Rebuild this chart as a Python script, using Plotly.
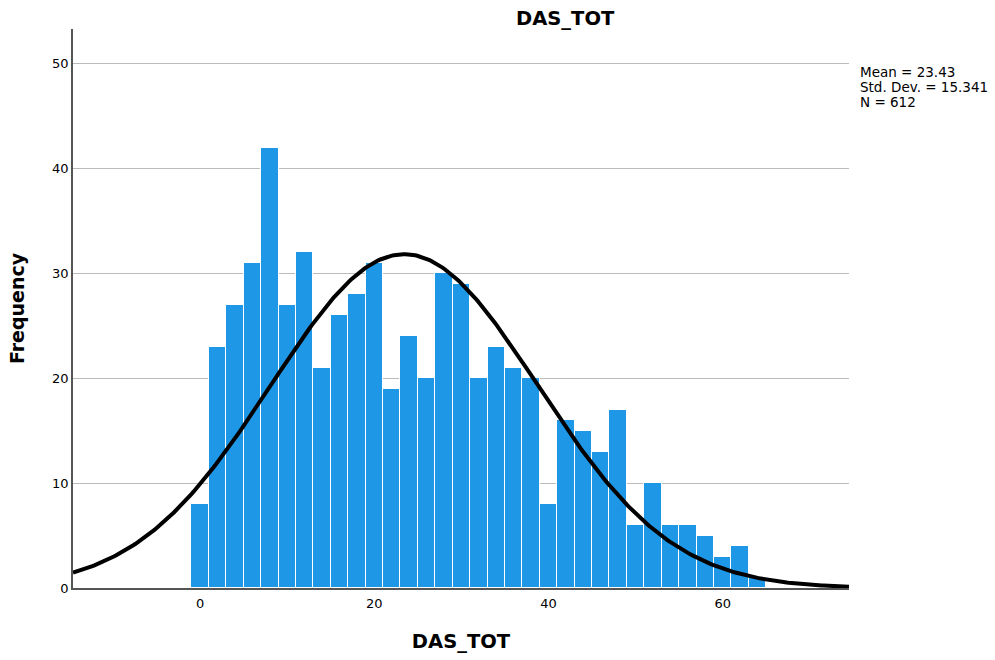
import numpy as np
import plotly.graph_objects as go

# Histogram of DAS_TOT, bin width 2, bins centred on even values
bin_centers = list(range(0, 66, 2))
counts = [8, 23, 27, 31, 42, 27, 32, 21, 26, 28, 31, 19, 24, 20, 30, 29, 20,
          23, 21, 20, 8, 16, 15, 13, 17, 6, 10, 6, 6, 5, 3, 4, 1]
bin_width = 2
mean = 23.43
std_dev = 15.341
n_total = 612
y_ticks = [0, 10, 20, 30, 40, 50]
x_ticks = [0, 20, 40, 60]

x_min, x_max = -14.6, 74.5

# Normal curve scaled to the histogram counts
xs = np.linspace(x_min, x_max, 400)
ys = n_total * bin_width / (std_dev * np.sqrt(2 * np.pi)) * np.exp(-0.5 * ((xs - mean) / std_dev) ** 2)

fig = go.Figure()
fig.add_trace(go.Bar(
    x=bin_centers, y=counts, width=bin_width,
    marker=dict(color="#1E98E6", line=dict(color="white", width=1)),
    showlegend=False,
))
fig.add_trace(go.Scatter(
    x=xs, y=ys, mode="lines",
    line=dict(color="black", width=4),
    showlegend=False,
))

# Summary statistics, one line per annotation for tight spacing
stats_lines = [f"Mean = {mean:.2f}", f"Std. Dev. = {std_dev:.3f}", f"N = {n_total}"]
stats_y = [0.9240, 0.8971, 0.8703]
for line, yy in zip(stats_lines, stats_y):
    fig.add_annotation(
        x=1.0, y=yy, xref="paper", yref="paper",
        xanchor="left", yanchor="middle", xshift=9,
        height=13, valign="middle",
        text=line, showarrow=False, align="left",
        font=dict(family="DejaVu Sans", size=13.5, color="black"),
    )

fig.update_layout(
    width=995, height=660,
    margin=dict(l=73, r=146, t=29, b=72),
    plot_bgcolor="white", paper_bgcolor="white",
    bargap=0,
    title=dict(text="<b>DAS_TOT</b>", x=0.568, xanchor="center", y=0.9727, yanchor="middle",
               font=dict(family="DejaVu Sans", size=19.5, color="black")),
    xaxis=dict(
        range=[x_min, x_max], tickvals=x_ticks, showgrid=False, zeroline=False,
        showline=True, linecolor="#555555", linewidth=1.5,
        ticks="", ticklabelstandoff=3, automargin=False,
        tickfont=dict(family="DejaVu Sans", size=13, color="black"),
        title=dict(text="<b>DAS_TOT</b>", standoff=24,
                   font=dict(family="DejaVu Sans", size=19.5, color="black")),
    ),
    yaxis=dict(
        range=[0, 53.3], tickvals=y_ticks, showgrid=True, gridcolor="#BBBBBB", gridwidth=1,
        zeroline=False, showline=True, linecolor="#555555", linewidth=1.5,
        ticks="", automargin=False,
        tickfont=dict(family="DejaVu Sans", size=13, color="black"),
        title=dict(text="<b>Frequency</b>", standoff=22,
                   font=dict(family="DejaVu Sans", size=19, color="black")),
    ),
)

fig.write_html("out.html")
